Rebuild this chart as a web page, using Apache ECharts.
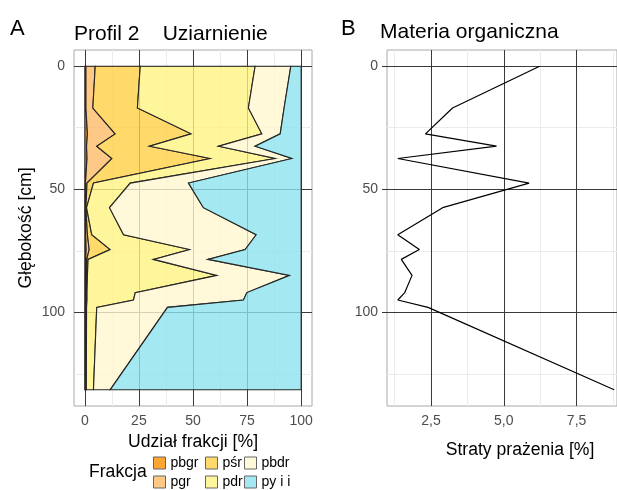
<!DOCTYPE html>
<html><head><meta charset="utf-8">
<script src="https://cdn.jsdelivr.net/npm/echarts@6/dist/echarts.min.js"></script>
<style>html,body{margin:0;padding:0;background:#fff}#c{width:617px;height:490px}</style>
</head><body><div id="c"></div>
<script>
// sample depths [cm]
const depths = [0, 17, 27.5, 32.5, 37.5, 47.5, 57.5, 68.5, 74.5, 78.5, 85, 92, 95, 98, 131.5];
// grain-size fractions [%] (panel A)
const fractionNames = ['pbgr', 'pgr', 'pśr', 'pdr', 'pbdr', 'py i i'];
const pbgr = [0.5, 0.5, 1.2, 0.8, 1.0, 0.3, 0.2, 0.4, 0.6, 0.4, 0.3, 0.3, 0.3, 0.2, 0.2];
const pgr  = [4.3, 3.2, 12.8, 4.7, 11.5, 0.7, 0.3, 0.8, 1.4, 0.5, 0.4, 0.3, 0.3, 0.3, 0.3];
const psr  = [20.8, 20.6, 35.1, 24.4, 45.4, 3.0, 0.3, 2.0, 9.7, 0.6, 0.5, 0.4, 0.4, 0.3, 0.2];
const pdr  = [53.1, 51.3, 32.7, 31.9, 30.1, 17.0, 10.6, 14.7, 36.7, 30.2, 59.8, 22.3, 21.5, 4.7, 3.3];
const pbdr = [16.5, 16.5, 8.5, 16.9, 7.7, 26.9, 43.4, 61.3, 25.7, 25.2, 33.6, 51.6, 50.8, 32.7, 7.7];
const pyii = [4.8, 7.9, 9.7, 21.3, 4.3, 52.1, 45.2, 20.8, 25.9, 43.1, 5.4, 25.1, 26.7, 61.8, 88.3];
// loss on ignition [%] (panel B)
const organicLoss = [6.23, 3.24, 2.31, 4.75, 1.36, 5.87, 2.90, 1.36, 2.10, 1.48, 1.85, 1.60, 1.36, 2.40, 8.79];
// tick values
const xTicksA = [0, 25, 50, 75, 100];
const xMinorA = [12.5, 37.5, 62.5, 87.5];
const xTicksB = [2.5, 5, 7.5];
const xMinorB = [1.25, 3.75, 6.25, 8.75];
const yTicks = [0, 50, 100];
const yMinor = [25, 75, 125];

const FONT = 'Liberation Sans, Arial, sans-serif';
const fillColors = ['rgba(255,142,0,0.8)', 'rgba(254,188,105,0.8)', 'rgba(255,207,69,0.8)',
                    'rgba(255,243,129,0.8)', 'rgba(255,248,209,0.8)', 'rgba(141,226,239,0.8)'];
const fractions = [pbgr, pgr, psr, pdr, pbdr, pyii];
const cum = [depths.map(() => 0)];
fractions.forEach((f, i) => cum.push(cum[i].map((v, k) => v + f[k])));

function makeRender(idx) {
  return function (params, api) {
    const pts = [];
    for (let k = 0; k < depths.length; k++) pts.push(api.coord([cum[idx + 1][k], depths[k]]));
    for (let k = depths.length - 1; k >= 0; k--) pts.push(api.coord([cum[idx][k], depths[k]]));
    return {type: 'polygon', shape: {points: pts},
            style: {fill: fillColors[idx], stroke: '#262626', lineWidth: 1.1}};
  };
}

const dMin = -6.575, dMax = 138.075;
const bMin = 0.99, bMax = 8.887;
const tickLbl = {color: '#4d4d4d', fontSize: 14, fontFamily: FONT};
const nameStyle = {color: '#000', fontSize: 17.6, fontFamily: FONT};
const major = {color: '#3a3a3a', width: 1};
const minor = {color: '#ebebeb', width: 1};
const tick = {length: 5, lineStyle: {color: '#333', width: 1}};

function minorAxis(grid, vals, min, max, extra) {
  return Object.assign({gridIndex: grid, type: 'value', min: min, max: max, z: 0,
    axisLine: {show: false}, axisTick: {show: false, customValues: vals},
    axisLabel: {show: false, customValues: vals}, splitLine: {show: true, lineStyle: minor}}, extra || {});
}

const option = {
  animation: false,
  backgroundColor: '#fff',
  title: [
    {text: 'A', left: 10, top: 18, padding: 0, textStyle: {fontSize: 22, fontWeight: 'normal', color: '#000', fontFamily: FONT}},
    {text: 'Profil 2    Uziarnienie', left: 74, top: 24, padding: 0, textStyle: {fontSize: 21, fontWeight: 'normal', color: '#000', fontFamily: FONT}},
    {text: 'B', left: 341, top: 18, padding: 0, textStyle: {fontSize: 22, fontWeight: 'normal', color: '#000', fontFamily: FONT}},
    {text: 'Materia organiczna', left: 380, top: 22, padding: 0, textStyle: {fontSize: 21, fontWeight: 'normal', color: '#000', fontFamily: FONT}},
    {text: 'Frakcja', left: 89, top: 463, padding: 0, textStyle: {fontSize: 17.6, fontWeight: 'normal', color: '#000', fontFamily: FONT}}
  ],
  legend: [
    {data: [fractionNames[0], fractionNames[1]], left: 153, top: 456},
    {data: [fractionNames[2], fractionNames[3]], left: 205, top: 456},
    {data: [fractionNames[4], fractionNames[5]], left: 244, top: 456}
  ].map(l => Object.assign(l, {orient: 'vertical', itemWidth: 12, itemHeight: 12, itemGap: 5, icon: 'rect',
      padding: 0, selectedMode: false, textStyle: {fontSize: 14, color: '#000', fontFamily: FONT},
      itemStyle: {borderColor: '#666', borderWidth: 1}})),
  grid: [
    {left: 74, top: 50, width: 238, height: 356, show: true, borderColor: '#a8a8a8', borderWidth: 1, backgroundColor: 'transparent'},
    {left: 387, top: 50, width: 231, height: 356, show: true, borderColor: '#a8a8a8', borderWidth: 1, backgroundColor: 'transparent'}
  ],
  xAxis: [
    {gridIndex: 0, type: 'value', min: -5, max: 105, z: 1, position: 'bottom',
     axisLine: {show: false}, axisTick: Object.assign({customValues: xTicksA}, tick),
     axisLabel: Object.assign({customValues: xTicksA, margin: 8, formatter: v => String(v)}, tickLbl),
     splitLine: {show: true, lineStyle: major},
     name: 'Udział frakcji [%]', nameLocation: 'middle', nameGap: 26, nameTextStyle: nameStyle},
    minorAxis(0, xMinorA, -5, 105, {position: 'top'}),
    {gridIndex: 1, type: 'value', min: bMin, max: bMax, z: 1, position: 'bottom',
     axisLine: {show: false}, axisTick: Object.assign({customValues: xTicksB}, tick),
     axisLabel: Object.assign({customValues: xTicksB, margin: 8, formatter: v => v.toFixed(1).replace('.', ',')}, tickLbl),
     splitLine: {show: true, lineStyle: major},
     name: 'Straty prażenia [%]', nameLocation: 'middle', nameGap: 35,
     nameTextStyle: Object.assign({padding: [0, 0, 0, 36]}, nameStyle)},
    minorAxis(1, xMinorB, bMin, bMax, {position: 'top'})
  ],
  yAxis: [
    {gridIndex: 0, type: 'value', inverse: true, min: dMin, max: dMax, z: 1, position: 'left',
     axisLine: {show: false}, axisTick: Object.assign({customValues: yTicks}, tick),
     axisLabel: Object.assign({customValues: yTicks, margin: 9}, tickLbl),
     splitLine: {show: true, lineStyle: major},
     name: 'Głębokość [cm]', nameLocation: 'middle', nameGap: 39, nameTextStyle: nameStyle},
    minorAxis(0, yMinor, dMin, dMax, {inverse: true, position: 'right'}),
    {gridIndex: 1, type: 'value', inverse: true, min: dMin, max: dMax, z: 1, position: 'left',
     axisLine: {show: false}, axisTick: Object.assign({customValues: yTicks}, tick),
     axisLabel: Object.assign({customValues: yTicks, margin: 9}, tickLbl),
     splitLine: {show: true, lineStyle: major}},
    minorAxis(1, yMinor, dMin, dMax, {inverse: true, position: 'right'})
  ],
  series: fractionNames.map((name, i) => ({
    name: name, type: 'custom', xAxisIndex: 0, yAxisIndex: 0, z: 2,
    itemStyle: {color: fillColors[i]},
    data: [[0, 0]], encode: {x: 0, y: 1},
    renderItem: makeRender(i)
  })).concat([{
    name: 'Straty prażenia', type: 'line', xAxisIndex: 2, yAxisIndex: 2, z: 3,
    data: depths.map((d, k) => [organicLoss[k], d]),
    symbol: 'none', lineStyle: {color: '#000', width: 1.2}, silent: true
  }])
};
const chart = echarts.init(document.getElementById('c'), null, {renderer: 'canvas'});
chart.setOption(option);
</script></body></html>
